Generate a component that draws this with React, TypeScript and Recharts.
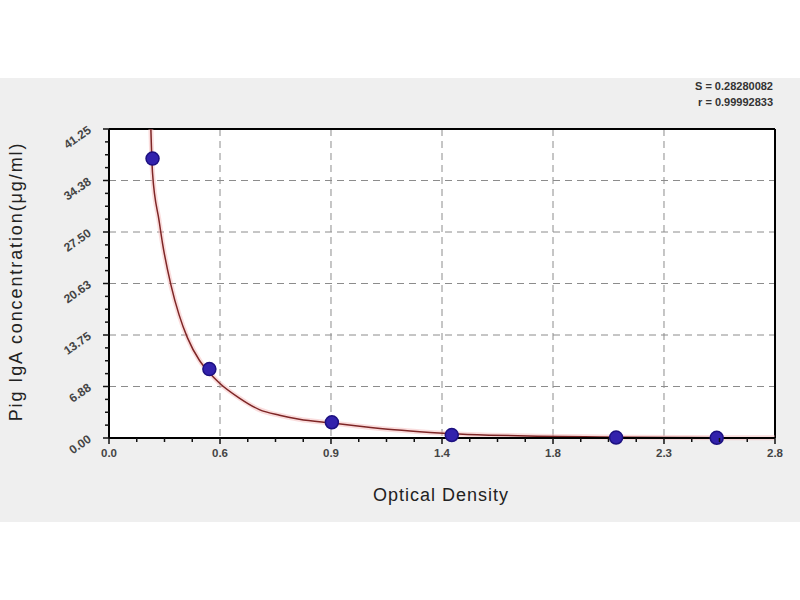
import { ComposedChart, XAxis, YAxis, CartesianGrid, Line, Scatter, ReferenceLine } from 'recharts';

// standards (OD vs concentration)
const standardOD = [0.183, 0.422, 0.937, 1.441, 2.132, 2.555];
const standardConc = [37.3, 9.2, 2.1, 0.4, 0.06, 0.03];

// fitted curve
const curveOD = [0.176, 0.183, 0.211, 0.225, 0.26, 0.295, 0.33, 0.38, 0.422, 0.464, 0.548, 0.632, 0.717, 0.8, 0.937, 1.054, 1.2, 1.35, 1.441, 1.6, 1.8, 2.0, 2.2, 2.4, 2.6, 2.8];
const curveConc = [43.5, 37.3, 30.5, 27.4, 21.6, 17.3, 14.1, 10.95, 9.2, 7.75, 5.63, 4.0, 3.2, 2.65, 2.1, 1.65, 1.15, 0.78, 0.6, 0.4, 0.25, 0.16, 0.11, 0.07, 0.05, 0.03];

const xMajorTicks = [0, 0.4667, 0.9333, 1.4, 1.8667, 2.3333, 2.8];
const xTickLabels = ['0.0', '0.6', '0.9', '1.4', '1.8', '2.3', '2.8'];
const yMajorTicks = [0, 6.875, 13.75, 20.625, 27.5, 34.375, 41.25];
const yTickLabels = ['0.00', '6.88', '13.75', '20.63', '27.50', '34.38', '41.25'];

const statLines = ['S = 0.28280082', 'r = 0.99992833'];

const FONT = '"Liberation Sans", Arial, sans-serif';

// 3 minor ticks between each pair of major ticks
const withMinors = (majors: number[]) => {
  const out: number[] = [];
  majors.forEach((v, i) => {
    out.push(v);
    if (i < majors.length - 1) {
      const step = (majors[i + 1] - v) / 4;
      for (let k = 1; k < 4; k++) out.push(v + step * k);
    }
  });
  return out;
};

const xTicks = withMinors(xMajorTicks);
const yTicks = withMinors(yMajorTicks);

const standards = standardOD.map((od, i) => ({ od, conc: standardConc[i] }));
const curve = curveOD.map((od, i) => ({ od, conc: curveConc[i] }));

function XTick({ x, y, index }: any) {
  const major = index % 4 === 0;
  return (
    <g>
      <line x1={x} x2={x} y1={y} y2={y + (major ? 6 : 4)} stroke="#111" strokeWidth={1.5} />
      {major && (
        <text x={x} y={y + 19} textAnchor="middle" fontFamily={FONT} fontSize={11.5} fontWeight="bold" fill="#444">
          {xTickLabels[index / 4]}
        </text>
      )}
    </g>
  );
}

function YTick({ x, y, index }: any) {
  const major = index % 4 === 0;
  const tx = x - 17;
  const ty = y + 3;
  return (
    <g>
      <line x1={x} x2={x - (major ? 6 : 4)} y1={y} y2={y} stroke="#111" strokeWidth={1.5} />
      {major && (
        <text x={tx} y={ty} textAnchor="end" fontFamily={FONT} fontSize={12} fontWeight="bold" fill="#444"
          transform={`rotate(-35 ${tx} ${ty})`}>
          {yTickLabels[index / 4]}
        </text>
      )}
    </g>
  );
}

function Dot({ cx, cy }: any) {
  return <circle cx={cx} cy={cy} r={6.5} fill="#3222ac" stroke="#1c1080" strokeWidth={1.5} />;
}

export default function App() {
  return (
    <div style={{ position: 'absolute', left: 0, top: 0, width: 800, height: 600, background: '#fff', overflow: 'hidden' }}>
      <div style={{ position: 'absolute', left: 0, top: 78, width: 800, height: 444, background: '#efefef' }} />
      <div style={{ position: 'absolute', right: 27, top: 78, textAlign: 'right', fontFamily: FONT, fontSize: 11, fontWeight: 'bold', color: '#333', lineHeight: '16px' }}>
        {statLines.map(s => <div key={s}>{s}</div>)}
      </div>
      <div style={{ position: 'absolute', left: 0, top: 0 }}>
        <ComposedChart width={800} height={600} margin={{ top: 129, right: 25, left: 49, bottom: 132 }}>
          <CartesianGrid
            yAxisId="left"
            fill="#fff"
            stroke="#8c8c8c"
            strokeDasharray="7 5"
            horizontalValues={yMajorTicks.slice(1, -1)}
            verticalValues={xMajorTicks.slice(1, -1)}
          />
          <XAxis
            type="number"
            dataKey="od"
            domain={[0, 2.8]}
            ticks={xTicks}
            interval={0}
            height={30}
            tickSize={0}
            tickMargin={0}
            tickLine={false}
            tick={<XTick />}
            axisLine={{ stroke: '#000', strokeWidth: 2 }}
          />
          <YAxis
            yAxisId="left"
            type="number"
            dataKey="conc"
            domain={[0, 41.25]}
            ticks={yTicks}
            interval={0}
            width={60}
            tickSize={0}
            tickMargin={0}
            tickLine={false}
            tick={<YTick />}
            axisLine={{ stroke: '#000', strokeWidth: 2 }}
          />
          <YAxis yAxisId="curve" orientation="right" hide type="number" domain={() => [0, 41.25]} />
          <ReferenceLine yAxisId="left" y={41.25} stroke="#000" strokeWidth={2} />
          <ReferenceLine yAxisId="left" x={2.8} stroke="#000" strokeWidth={2} />
          <Line yAxisId="curve" data={curve} dataKey="conc" type="monotone" stroke="#f4b4b4" strokeOpacity={0.45} strokeWidth={5} dot={false} activeDot={false} isAnimationActive={false} />
          <Line yAxisId="curve" data={curve} dataKey="conc" type="monotone" stroke="#7e2626" strokeWidth={1.5} dot={false} activeDot={false} isAnimationActive={false} />
          <Scatter yAxisId="left" data={standards} dataKey="conc" shape={<Dot />} isAnimationActive={false} />
        </ComposedChart>
      </div>
      <div style={{ position: 'absolute', left: 341, width: 200, top: 485, textAlign: 'center', fontFamily: FONT, fontSize: 18, letterSpacing: 1, color: '#222' }}>
        Optical Density
      </div>
      <div style={{ position: 'absolute', left: 16, top: 282, width: 0, height: 0 }}>
        <div style={{ position: 'absolute', left: -200, top: -11, width: 400, textAlign: 'center', transform: 'rotate(-90deg)', fontFamily: FONT, fontSize: 18, letterSpacing: 1.9, color: '#222', whiteSpace: 'nowrap' }}>
          Pig IgA concentration(μg/ml)
        </div>
      </div>
    </div>
  );
}
